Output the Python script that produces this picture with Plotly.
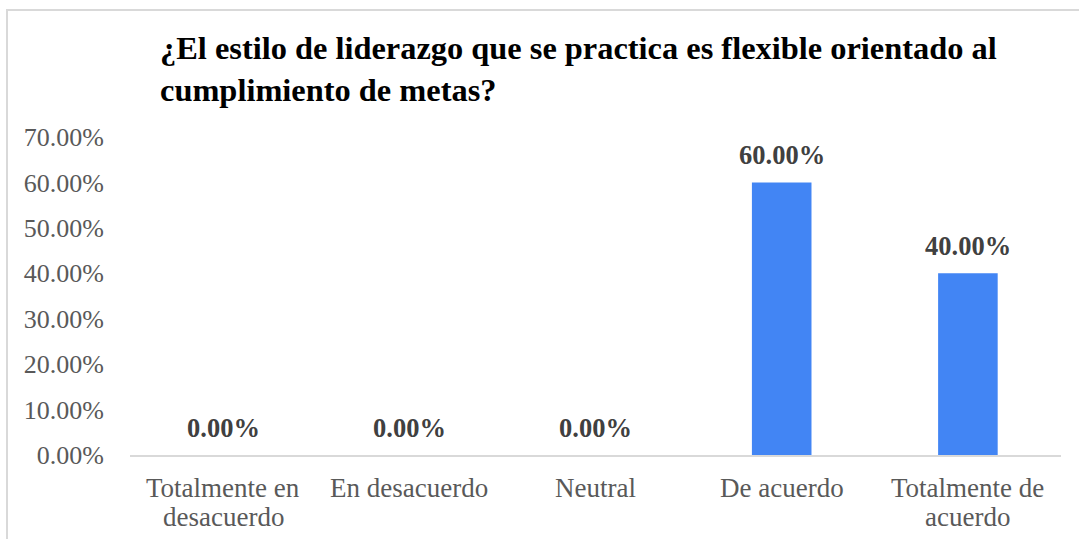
import plotly.graph_objects as go

categories = ["Totalmente en desacuerdo", "En desacuerdo", "Neutral", "De acuerdo", "Totalmente de acuerdo"]
category_lines = [["Totalmente en", "desacuerdo"], ["En desacuerdo"], ["Neutral"], ["De acuerdo"], ["Totalmente de", "acuerdo"]]
values = [0.0, 0.0, 0.0, 0.60, 0.40]
tick_vals = [0, 0.1, 0.2, 0.3, 0.4, 0.5, 0.6, 0.7]

W, H = 1079, 539
L, R, T, B = 130, 18, 137, 84
PW, PH = W - L - R, H - T - B
FONT = '"Liberation Serif", "Times New Roman", serif'


def px_x(px):
    return (px - L) / PW


def px_y(py):
    return (H - B - py) / PH


fig = go.Figure()
fig.add_trace(go.Bar(
    x=categories, y=values,
    marker=dict(color="#4285F4", line=dict(width=0)),
    width=0.32,
    hoverinfo="skip",
))

for c, v in zip(categories, values):
    fig.add_annotation(
        x=c, y=v, xref="x", yref="y",
        text="<b>{:.2%}</b>".format(v),
        showarrow=False, yanchor="bottom", yshift=10,
        font=dict(family=FONT, size=26.5, color="#404040"),
    )

for c, lines in zip(categories, category_lines):
    for i, line in enumerate(lines):
        fig.add_annotation(
            x=c, y=0, xref="x", yref="paper",
            text=line, showarrow=False, yanchor="middle",
            yshift=-33 - 29 * i,
            font=dict(family=FONT, size=27, color="#595959"),
        )

fig.update_layout(
    width=W, height=H,
    margin=dict(l=L, r=R, t=T, b=B),
    paper_bgcolor="white", plot_bgcolor="white",
    showlegend=False,
    title=dict(
        text="<b>¿El estilo de liderazgo que se practica es flexible orientado al<br>cumplimiento de metas?</b>",
        x=160 / W, xref="container", xanchor="left",
        y=1 - 59 / H, yref="container", yanchor="top",
        font=dict(family=FONT, size=32.4, color="black"),
    ),
)

fig.update_yaxes(
    range=[0, 0.7], tickvals=tick_vals, tickformat=".2%",
    showgrid=False, zeroline=False, showline=False,
    ticks="", ticklabelstandoff=25,
    tickfont=dict(family=FONT, size=26, color="#595959"),
)
fig.update_xaxes(
    showgrid=False, showline=True, linecolor="#d9d9d9", linewidth=2,
    ticks="", showticklabels=False,
)

fig.add_shape(
    type="rect", xref="paper", yref="paper",
    x0=px_x(7), x1=px_x(W + 20),
    y0=px_y(H + 20), y1=px_y(10),
    line=dict(color="#d9d9d9", width=2), fillcolor="rgba(0,0,0,0)",
    layer="below",
)

fig.write_html("out.html")
